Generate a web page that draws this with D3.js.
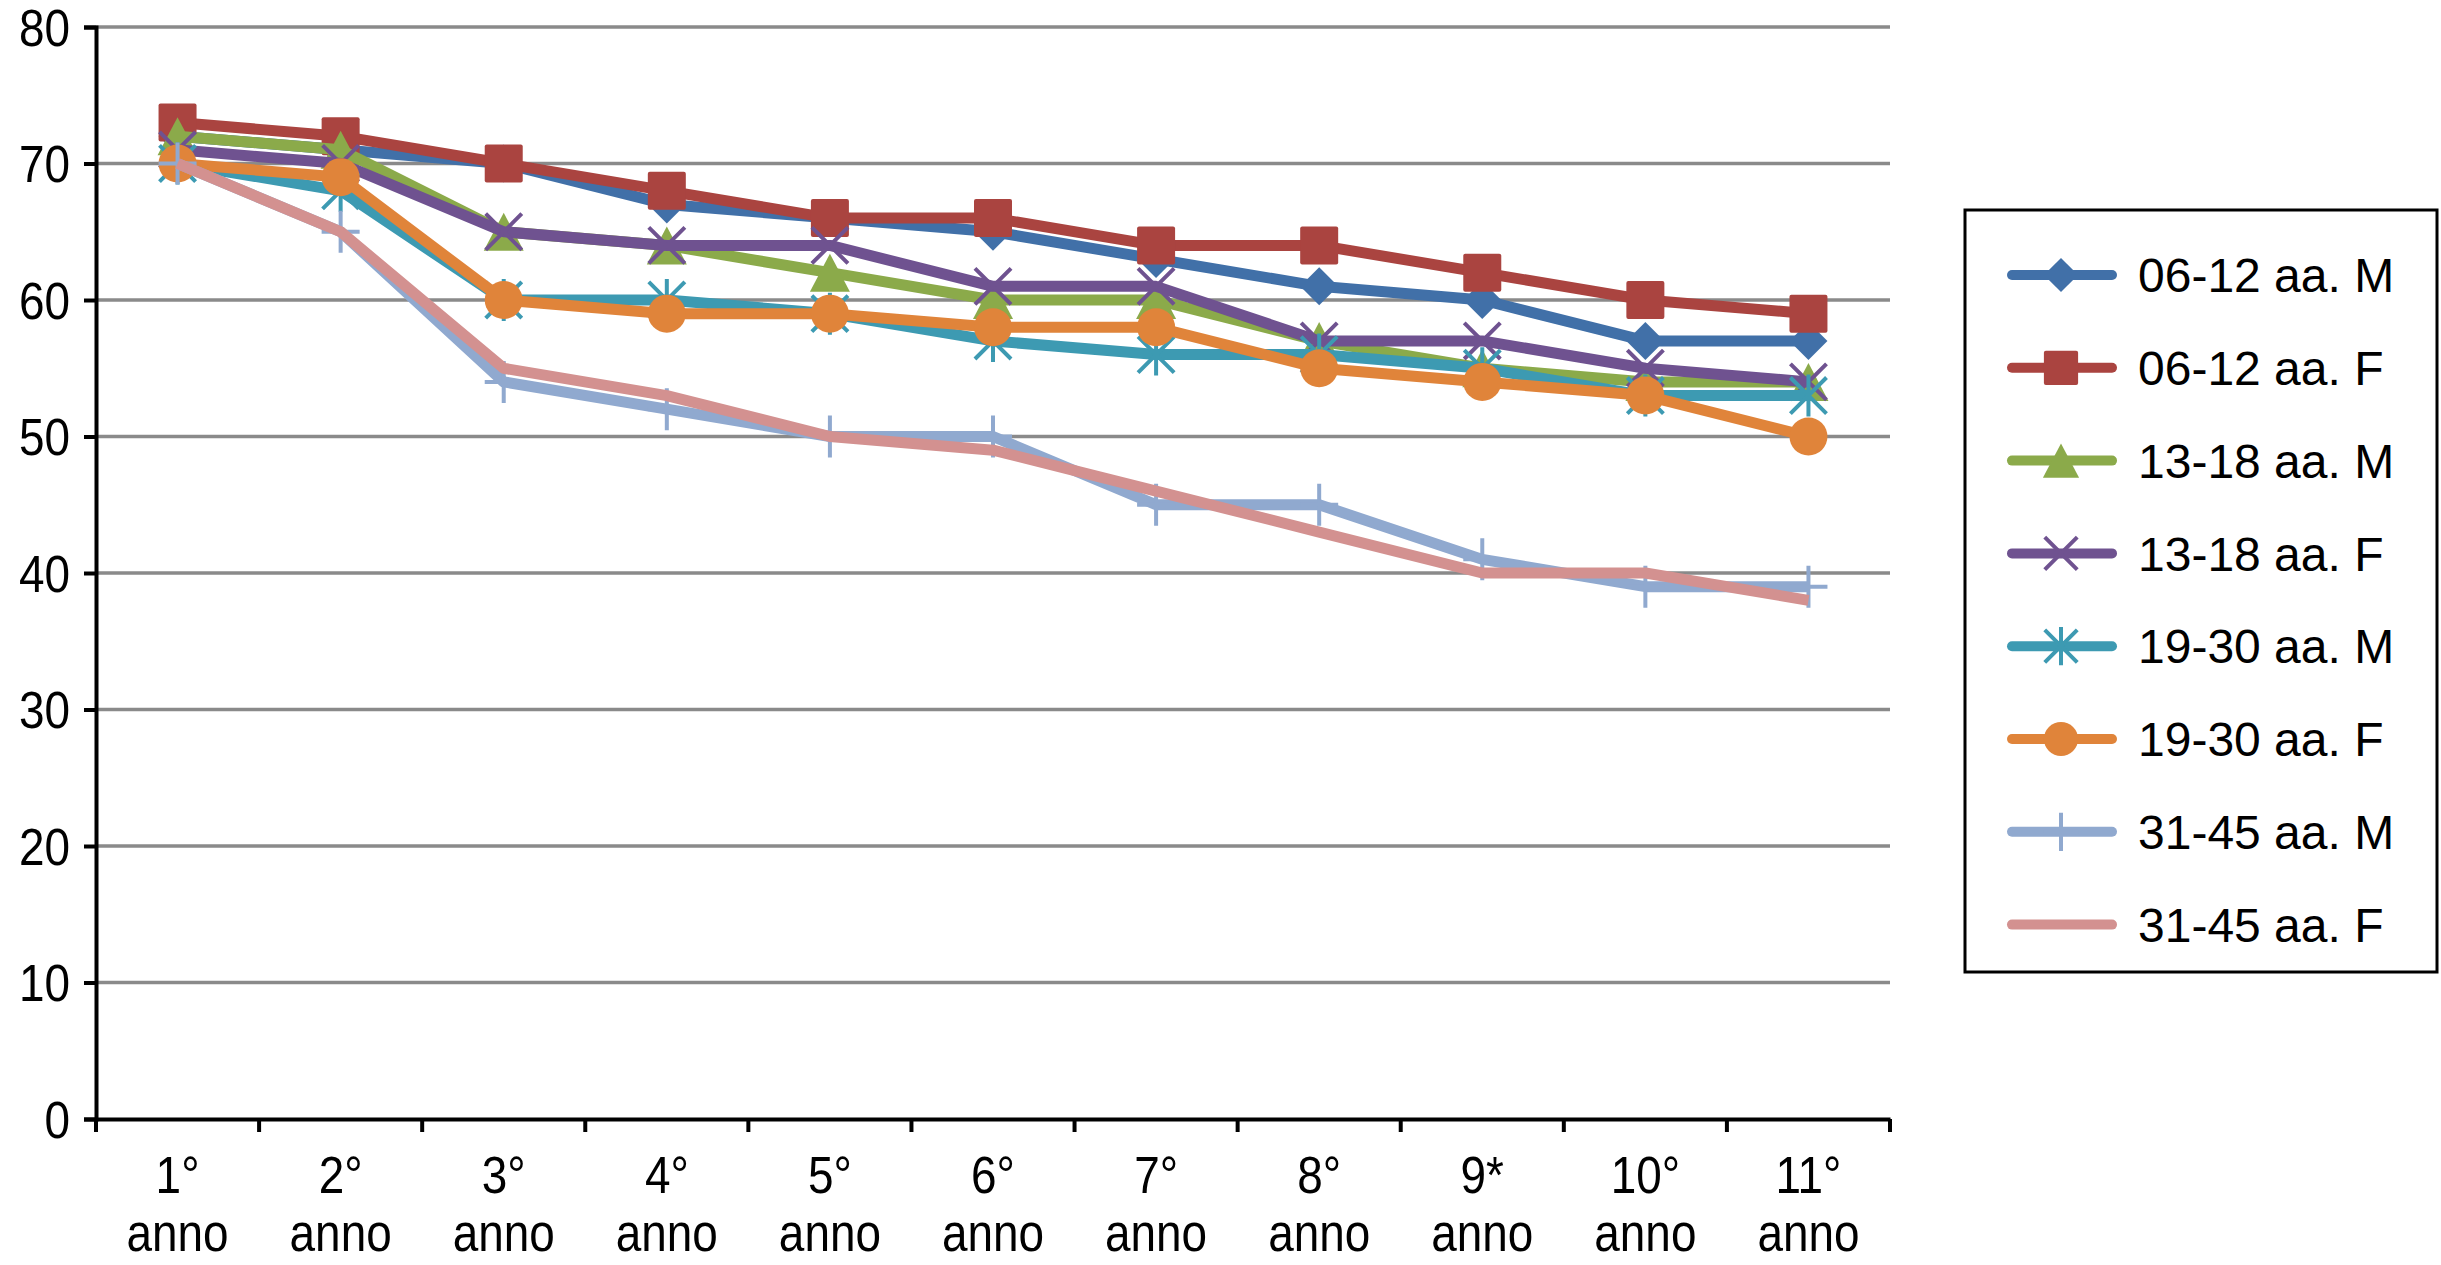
<!DOCTYPE html>
<html>
<head>
<meta charset="utf-8">
<script src="https://cdn.jsdelivr.net/npm/d3@7"></script>
<style>
  body { margin: 0; background: #fff; }
  text { font-family: "Liberation Sans", Arial, sans-serif; fill: #000; }
</style>
</head>
<body>
<svg id="chart"></svg>
<script>
// categories and values
const years = ['1°', '2°', '3°', '4°', '5°', '6°', '7°', '8°', '9*', '10°', '11°'];
const yTicks = [0, 10, 20, 30, 40, 50, 60, 70, 80];

const m0612 = [72, 71, 70, 67, 66, 65, 63, 61, 60, 57, 57];
const f0612 = [73, 72, 70, 68, 66, 66, 64, 64, 62, 60, 59];
const m1318 = [72, 71, 65, 64, 62, 60, 60, 57, 55, 54, 54];
const f1318 = [71, 70, 65, 64, 64, 61, 61, 57, 57, 55, 54];
const m1930 = [70, 68, 60, 60, 59, 57, 56, 56, 55, 53, 53];
const f1930 = [70, 69, 60, 59, 59, 58, 58, 55, 54, 53, 50];
const m3145 = [70, 65, 54, 52, 50, 50, 45, 45, 41, 39, 39];
const f3145 = [70, 65, 55, 53, 50, 49, 46, 43, 40, 40, 38];

const seriesNames = ['06-12 aa. M', '06-12 aa. F', '13-18 aa. M', '13-18 aa. F',
                     '19-30 aa. M', '19-30 aa. F', '31-45 aa. M', '31-45 aa. F'];
const seriesValues = [m0612, f0612, m1318, f1318, m1930, f1930, m3145, f3145];
const seriesColors = ['#4170A8', '#AA4440', '#8BAA4A', '#6F5290',
                      '#3D9AB2', '#E0843A', '#90A9CF', '#D39190'];
const seriesMarkers = ['diamond', 'square', 'triangle', 'cross', 'star', 'circle', 'plus', 'none'];

const W = 2441, H = 1265;
const svg = d3.select('#chart').attr('width', W).attr('height', H);

const x = d3.scaleBand().domain(years).range([96, 1890]);
const y = d3.scaleLinear().domain([0, 80]).range([1119, 27]);
const cx = d => x(d) + x.bandwidth() / 2;

// gridlines
svg.append('g')
  .selectAll('line')
  .data(yTicks.slice(1))
  .enter()
  .append('line')
  .attr('x1', 96).attr('x2', 1890)
  .attr('y1', d => y(d)).attr('y2', d => y(d))
  .attr('stroke', '#8a8a8a')
  .attr('stroke-width', 3.5);

// y axis
const yAxis = svg.append('g')
  .attr('transform', 'translate(96,0)')
  .call(d3.axisLeft(y).tickValues(yTicks).tickSize(12).tickPadding(14));
yAxis.select('.domain').attr('stroke', '#000').attr('stroke-width', 4);
yAxis.selectAll('.tick line').attr('stroke', '#000').attr('stroke-width', 4);
yAxis.selectAll('.tick text')
  .style('font-size', '51px')
  .attr('dy', '0.36em')
  .attr('transform', 'translate(-26,0) scale(0.9,1) translate(26,0)');

// x axis
const xAxis = svg.append('g')
  .attr('transform', 'translate(0,1119)')
  .call(d3.axisBottom(x).tickSize(0).tickFormat(''));
xAxis.select('.domain').attr('stroke', '#000').attr('stroke-width', 4);

svg.append('g')
  .selectAll('line')
  .data(d3.range(years.length + 1))
  .enter()
  .append('line')
  .attr('x1', i => x.range()[0] + i * x.step())
  .attr('x2', i => x.range()[0] + i * x.step())
  .attr('y1', 1119).attr('y2', 1132)
  .attr('stroke', '#000')
  .attr('stroke-width', 4);

const xl = svg.append('g').selectAll('g')
  .data(years)
  .enter()
  .append('g')
  .attr('transform', d => `translate(${cx(d)},0) scale(0.9,1)`);
xl.append('text')
  .attr('text-anchor', 'middle')
  .attr('y', 1193)
  .style('font-size', '51px')
  .text(d => d);
xl.append('text')
  .attr('text-anchor', 'middle')
  .attr('y', 1251)
  .style('font-size', '51px')
  .text('anno');

// markers
function drawMarker(g, type, color, k) {
  const s = 19 * k;
  if (type === 'diamond') {
    g.append('path').attr('d', `M0,${-s}L${s},0L0,${s}L${-s},0Z`).attr('fill', color);
  } else if (type === 'square') {
    g.append('rect').attr('x', -s).attr('y', -s).attr('width', 2 * s).attr('height', 2 * s)
      .attr('rx', 2).attr('fill', color);
  } else if (type === 'triangle') {
    g.append('path').attr('d', `M0,${-s}L${s + 1},${s}L${-s - 1},${s}Z`).attr('fill', color);
  } else if (type === 'circle') {
    g.append('circle').attr('r', s).attr('fill', color);
  } else if (type === 'cross' || type === 'star') {
    const a = s * 0.95;
    g.append('path')
      .attr('d', `M${-a},${-a}L${a},${a}M${-a},${a}L${a},${-a}` + (type === 'star' ? `M0,${-s - 2}L0,${s + 2}` : ''))
      .attr('stroke', color).attr('stroke-width', 4).attr('fill', 'none');
  } else if (type === 'plus') {
    g.append('path')
      .attr('d', `M0,${-s - 2}L0,${s + 2}M${-s},0L${s},0`)
      .attr('stroke', color).attr('stroke-width', 4).attr('fill', 'none');
  }
}

const line = d3.line()
  .x((d, i) => cx(years[i]))
  .y(d => y(d));

seriesValues.forEach((vals, si) => {
  const g = svg.append('g');
  g.append('path')
    .attr('d', line(vals))
    .attr('fill', 'none')
    .attr('stroke', seriesColors[si])
    .attr('stroke-width', 11)
    .attr('stroke-linejoin', 'round');
  vals.forEach((v, i) => {
    const mg = g.append('g')
      .attr('transform', `translate(${cx(years[i])},${y(v)})`);
    drawMarker(mg, seriesMarkers[si], seriesColors[si], 1);
  });
});

// legend
const legend = svg.append('g');
legend.append('rect')
  .attr('x', 1965).attr('y', 210)
  .attr('width', 472).attr('height', 762)
  .attr('fill', '#fff')
  .attr('stroke', '#000')
  .attr('stroke-width', 3);

seriesNames.forEach((name, i) => {
  const ly = 275 + i * 92.8;
  legend.append('line')
    .attr('x1', 2012).attr('x2', 2112)
    .attr('y1', ly).attr('y2', ly)
    .attr('stroke', seriesColors[i])
    .attr('stroke-width', 10)
    .attr('stroke-linecap', 'round');
  const mg = legend.append('g').attr('transform', `translate(2061,${ly})`);
  drawMarker(mg, seriesMarkers[i], seriesColors[i], 0.9);
  legend.append('text')
    .attr('x', 2138).attr('y', ly)
    .attr('dy', '0.36em')
    .style('font-size', '48px')
    .text(name);
});
</script>
</body>
</html>
